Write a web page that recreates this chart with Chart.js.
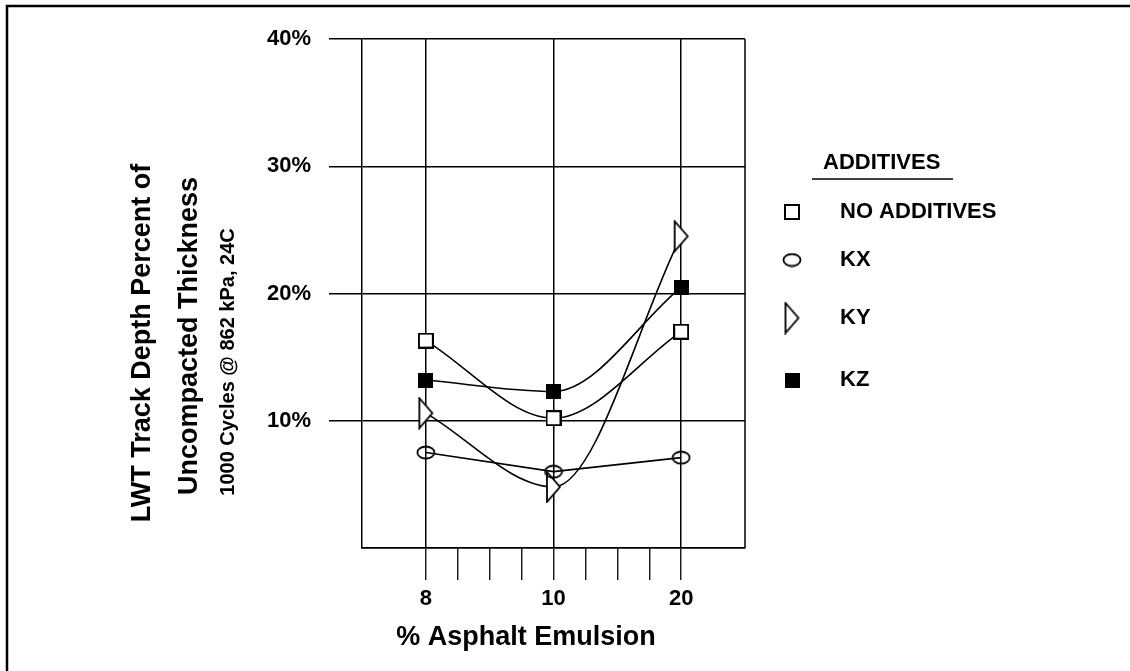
<!DOCTYPE html>
<html lang="en">
<head>
<meta charset="utf-8">
<title>LWT Track Depth vs % Asphalt Emulsion</title>
<script src="https://cdn.jsdelivr.net/npm/chart.js@4.4.1/dist/chart.umd.min.js"></script>
<style>
  html, body { margin: 0; padding: 0; background: #fff; }
  canvas { display: block; }
</style>
</head>
<body>
<canvas id="chart" width="1130" height="671"></canvas>
<script>
/* ---------- Data ---------- */
const emulsion = ["8", "10", "20"];          // % asphalt emulsion
const noAdditives = [16.3, 10.2, 17.0];      // track depth, %
const kx = [7.5, 6.0, 7.1];
const ky = [10.6, 4.8, 24.5];
const kz = [13.2, 12.3, 20.5];
const seriesNames = ["NO ADDITIVES", "KX", "KY", "KZ"];
const yTicks = [0, 10, 20, 30, 40];

const legendTitle = "ADDITIVES";
const xTitle = "% Asphalt Emulsion";
const yTitle = ["LWT Track Depth Percent of", "Uncompacted Thickness", "1000 Cycles @ 862 kPa, 24C"];

const FONT = '"Liberation Sans", Arial, sans-serif';
const INK = "#000";
const NONE = "rgba(0,0,0,0)";

// axis slots: two empty slots at each end, three minor ticks between the levels
const MINOR = 3, PAD = 2;
const xSlots = [];
for (let i = 0; i < PAD; i++) xSlots.push("");
emulsion.forEach((e, i) => {
  xSlots.push(e);
  if (i < emulsion.length - 1) for (let k = 0; k < MINOR; k++) xSlots.push("");
});
for (let i = 0; i < PAD; i++) xSlots.push("");
const firstMajor = PAD, lastMajor = xSlots.length - 1 - PAD;

const toPoints = vals => vals.map((v, i) => ({ x: emulsion[i], y: v }));

/* ---------- Markers ---------- */
function makeMarker(kind) {
  const c = document.createElement("canvas");
  // size first: resizing a canvas resets its context state
  const sizes = { square: [16, 16], ellipse: [20, 15], triangle: [17, 33], filled: [15, 15] };
  [c.width, c.height] = sizes[kind];
  const g = c.getContext("2d");
  g.strokeStyle = INK;
  g.fillStyle = "#fff";
  g.lineWidth = 1.8;
  if (kind === "square") {
    g.fillRect(1, 1, 14, 14);
    g.lineWidth = 2;
    g.strokeRect(1, 1, 14, 14);
  } else if (kind === "ellipse") {
    g.beginPath();
    g.ellipse(10, 7.5, 8.5, 6, 0, 0, Math.PI * 2);
    g.stroke();
  } else if (kind === "triangle") {
    g.beginPath();
    g.moveTo(2, 1.5);
    g.lineTo(15, 16.5);
    g.lineTo(2, 31.5);
    g.closePath();
    g.fill();
    g.stroke();
  } else {
    g.fillStyle = INK;
    g.fillRect(0, 0, 15, 15);
  }
  return c;
}

const markers = [makeMarker("square"), makeMarker("ellipse"), makeMarker("triangle"), makeMarker("filled")];

function series(name, vals, marker, curved) {
  return {
    label: name,
    data: toPoints(vals),
    borderColor: INK,
    borderWidth: 1.6,
    pointStyle: marker,
    pointRadius: 8,
    tension: curved ? 0.4 : 0,
    cubicInterpolationMode: curved ? "monotone" : "default",
    fill: false,
  };
}

/* ---------- Extras drawn on the canvas ---------- */
const decorations = {
  id: "decorations",
  beforeDraw(chart) {
    const ctx = chart.ctx;
    ctx.save();
    ctx.fillStyle = "#fff";
    ctx.fillRect(0, 0, chart.width, chart.height);
    // scanned page frame: top and left edges only
    ctx.strokeStyle = INK;
    ctx.lineWidth = 2.5;
    ctx.beginPath();
    ctx.moveTo(7, chart.height);
    ctx.lineTo(7, 6);
    ctx.lineTo(chart.width, 6);
    ctx.stroke();
    ctx.restore();
  },
  beforeDatasetsDraw(chart) {
    const { ctx, chartArea: a } = chart;
    ctx.save();
    ctx.strokeStyle = INK;
    ctx.lineWidth = 1.5;
    ctx.beginPath();
    ctx.moveTo(a.right, a.top);
    ctx.lineTo(a.right, a.bottom);
    ctx.stroke();
    ctx.restore();
  },
  afterDraw(chart) {
    const ctx = chart.ctx;
    ctx.save();
    ctx.fillStyle = INK;
    ctx.textAlign = "center";
    ctx.textBaseline = "middle";

    // x title
    ctx.font = `bold 27px ${FONT}`;
    ctx.fillText(xTitle, 526, 638);

    // y title, three rotated lines
    const yLines = [
      { x: 143, y: 343, size: 27 },
      { x: 190, y: 336, size: 27 },
      { x: 228, y: 362, size: 20 },
    ];
    yLines.forEach((l, i) => {
      ctx.save();
      ctx.translate(l.x, l.y);
      ctx.rotate(-Math.PI / 2);
      ctx.font = `bold ${l.size}px ${FONT}`;
      ctx.fillText(yTitle[i], 0, 0);
      ctx.restore();
    });

    // legend
    ctx.font = `bold 22px ${FONT}`;
    ctx.textAlign = "left";
    ctx.fillText(legendTitle, 823, 163);
    ctx.strokeStyle = INK;
    ctx.lineWidth = 1.5;
    ctx.beginPath();
    ctx.moveTo(812, 179);
    ctx.lineTo(953, 179);
    ctx.stroke();

    const rows = [212, 260, 318, 380];
    chart.data.datasets.forEach((ds, i) => {
      const y = rows[i];
      const m = ds.pointStyle;
      if (Chart.helpers && Chart.helpers.drawPoint) {
        Chart.helpers.drawPoint(ctx, { pointStyle: m, radius: 8, rotation: 0, borderWidth: 0 }, 792, y);
      } else {
        ctx.drawImage(m, 792 - m.width / 2, y - m.height / 2);
      }
      ctx.fillStyle = INK;
      ctx.fillText(ds.label, 840, y);
    });
    ctx.restore();
  },
};

/* ---------- Chart ---------- */
new Chart(document.getElementById("chart"), {
  type: "line",
  data: {
    labels: xSlots,
    datasets: [
      series(seriesNames[0], noAdditives, markers[0], true),
      series(seriesNames[1], kx, markers[1], false),
      series(seriesNames[2], ky, markers[2], true),
      series(seriesNames[3], kz, markers[3], true),
    ],
  },
  options: {
    responsive: false,
    animation: false,
    events: [],
    layout: { padding: { left: 0, top: 39, right: 385, bottom: 0 } },
    plugins: { legend: { display: false }, tooltip: { enabled: false } },
    scales: {
      x: {
        type: "category",
        offset: false,
        afterFit: s => { s.height = 123; },
        grid: {
          color: c => (xSlots[c.index] !== "" ? INK : NONE),
          tickColor: c => (c.index >= firstMajor && c.index <= lastMajor ? INK : NONE),
          lineWidth: 1.5,
          tickWidth: 1.3,
          tickLength: 32,
        },
        border: { display: true, color: INK, width: 1.5 },
        ticks: {
          autoSkip: false,
          maxRotation: 0,
          padding: 6,
          color: INK,
          font: { family: FONT, size: 22, weight: "bold" },
        },
      },
      y: {
        min: 0,
        max: 40,
        afterFit: s => { s.width = 362; },
        afterBuildTicks: s => { s.ticks = yTicks.map(v => ({ value: v })); },
        grid: {
          color: INK,
          tickColor: c => (c.tick && c.tick.value === 0 ? NONE : INK),
          lineWidth: 1.5,
          tickLength: 33,
        },
        border: { display: true, color: INK, width: 1.5 },
        ticks: {
          padding: 18,
          color: INK,
          font: { family: FONT, size: 22, weight: "bold" },
          callback: v => (v === 0 ? "" : v + "%"),
        },
      },
    },
  },
  plugins: [decorations],
});
</script>
</body>
</html>
